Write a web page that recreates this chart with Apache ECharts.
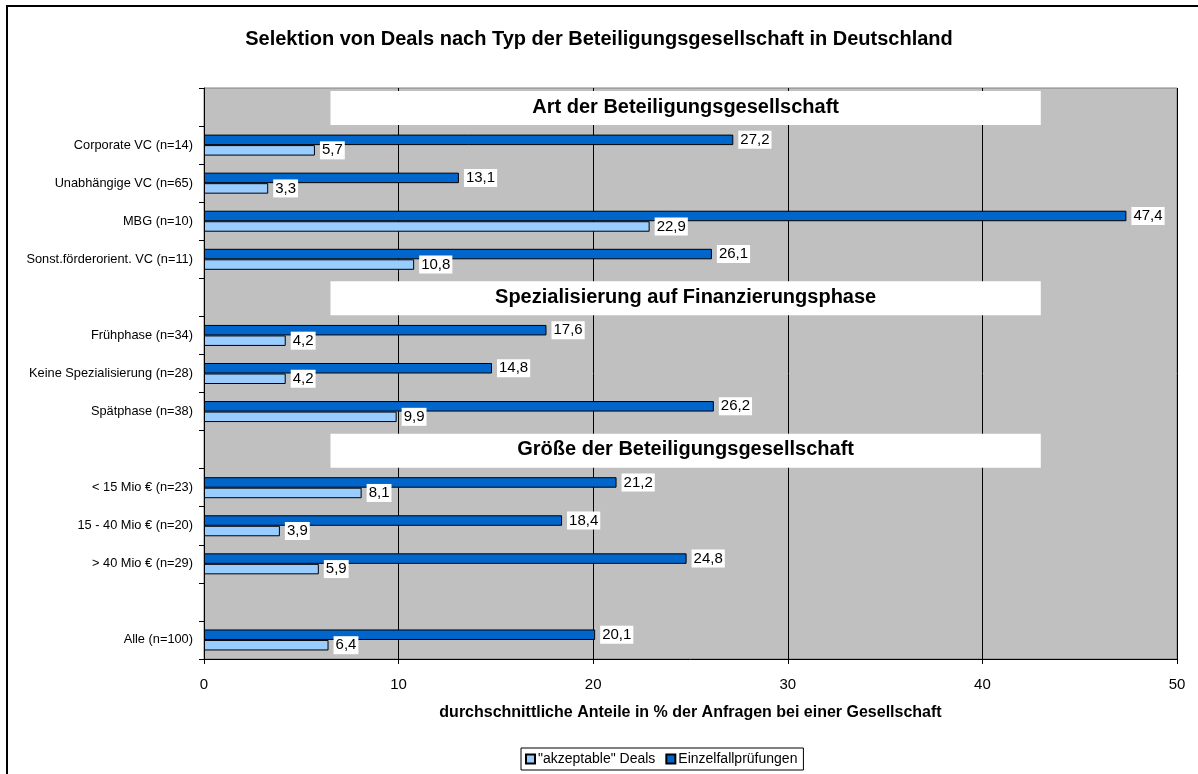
<!DOCTYPE html>
<html>
<head>
<meta charset="utf-8">
<script src="https://cdn.jsdelivr.net/npm/echarts@6/dist/echarts.min.js"></script>
<style>
  html, body { margin: 0; padding: 0; background: #fff; }
  #chart { width: 1198px; height: 774px; }
</style>
</head>
<body>
<div id="chart"></div>
<script>
  // rows top to bottom, blank rows carry the section headers
  const categories = ['', 'Corporate VC (n=14)', 'Unabhängige VC (n=65)', 'MBG (n=10)', 'Sonst.förderorient. VC (n=11)',
    ' ', 'Frühphase (n=34)', 'Keine Spezialisierung (n=28)', 'Spätphase (n=38)',
    '  ', '< 15 Mio € (n=23)', '15 - 40 Mio € (n=20)', '> 40 Mio € (n=29)',
    '   ', 'Alle (n=100)']
  const akzeptableDeals = [null, 5.7, 3.3, 22.9, 10.8, null, 4.2, 4.2, 9.9, null, 8.1, 3.9, 5.9, null, 6.4]
  const einzelfallpruefungen = [null, 27.2, 13.1, 47.4, 26.1, null, 17.6, 14.8, 26.2, null, 21.2, 18.4, 24.8, null, 20.1]
  const headerTitles = ['Art der Beteiligungsgesellschaft', 'Spezialisierung auf Finanzierungsphase', 'Größe der Beteiligungsgesellschaft']
  const headerRows = [0, 5, 9]
  const headerFrom = 6.5
  const headerTo = 43
  const xTicks = [0, 10, 20, 30, 40, 50]

  const font = '"Liberation Sans", Arial, sans-serif'
  const chart = echarts.init(document.getElementById('chart'))

  let fmt = function (p) {
    return String(p.value).replace('.', ',')
  }

  let labelStyle = {
    show: true,
    position: 'right',
    distance: 5,
    formatter: fmt,
    color: '#000',
    fontSize: 15,
    fontFamily: font,
    backgroundColor: '#fff',
    padding: [2, 2, 1, 2]
  }

  let options = {
    animation: false,
    textStyle: { fontFamily: font },
    title: {
      text: 'Selektion von Deals nach Typ der Beteiligungsgesellschaft in Deutschland',
      left: 'center',
      top: 24,
      textStyle: { fontSize: 20, fontWeight: 'bold', color: '#000', fontFamily: font }
    },
    graphic: [{
      type: 'rect',
      shape: { x: 7, y: 6, width: 1400, height: 1000 },
      style: { fill: 'none', stroke: '#000', lineWidth: 2 },
      silent: true
    }],
    legend: {
      left: 521,
      top: 748,
      data: ['"akzeptable" Deals', 'Einzelfallprüfungen'],
      itemWidth: 9,
      itemHeight: 9,
      itemGap: 10,
      padding: [4, 6, 4, 4],
      borderColor: '#000',
      borderWidth: 1,
      backgroundColor: '#fff',
      icon: 'rect',
      textStyle: { fontSize: 14, color: '#000', fontFamily: font, padding: [0, 0, 0, -2] }
    },
    grid: {
      left: 204,
      right: 21,
      top: 88,
      bottom: 115,
      show: true,
      backgroundColor: '#C0C0C0',
      borderColor: '#808080',
      borderWidth: 1
    },
    xAxis: {
      type: 'value',
      min: xTicks[0],
      max: xTicks[xTicks.length - 1],
      interval: 10,
      name: 'durchschnittliche Anteile in % der Anfragen bei einer Gesellschaft',
      nameLocation: 'middle',
      nameGap: 46,
      nameTextStyle: { fontSize: 16, fontWeight: 'bold', color: '#000', fontFamily: font },
      axisLine: { show: true, lineStyle: { color: '#000', width: 1 } },
      axisTick: { show: true, length: 5, lineStyle: { color: '#000' } },
      axisLabel: { fontSize: 15, color: '#000', margin: 18, fontFamily: font },
      splitLine: { show: true, lineStyle: { color: '#000', width: 1 } }
    },
    yAxis: {
      type: 'category',
      inverse: true,
      data: categories,
      axisLine: { show: true, lineStyle: { color: '#000', width: 1 } },
      axisTick: { show: true, length: 5, lineStyle: { color: '#000' } },
      axisLabel: { fontSize: 12.8, color: '#000', margin: 11, fontFamily: font }
    },
    series: [
      {
        name: 'Einzelfallprüfungen',
        type: 'bar',
        data: einzelfallpruefungen,
        barWidth: 10.5,
        barGap: '0%',
        itemStyle: { color: '#0066CC', borderColor: '#000', borderWidth: 1 },
        label: labelStyle
      },
      {
        name: '"akzeptable" Deals',
        type: 'bar',
        data: akzeptableDeals,
        barWidth: 10.5,
        barGap: '0%',
        itemStyle: { color: '#99CCFF', borderColor: '#000', borderWidth: 1 },
        label: labelStyle
      },
      {
        name: 'headers',
        type: 'custom',
        encode: { x: [0, 1], y: 2 },
        data: headerRows.map(function (r) { return [headerFrom, headerTo, r] }),
        renderItem: function (params, api) {
          let start = api.coord([api.value(0), api.value(2)])
          let end = api.coord([api.value(1), api.value(2)])
          let cy = start[1] + 1
          return {
            type: 'group',
            children: [
              {
                type: 'rect',
                shape: { x: start[0], y: cy - 17, width: end[0] - start[0], height: 34 },
                style: { fill: '#fff' }
              },
              {
                type: 'text',
                style: {
                  text: headerTitles[params.dataIndex],
                  x: (start[0] + end[0]) / 2,
                  y: cy - 1,
                  align: 'center',
                  verticalAlign: 'middle',
                  font: 'bold 20px ' + font,
                  fill: '#000'
                }
              }
            ]
          }
        }
      }
    ]
  }
  chart.setOption(options)
</script>
</body>
</html>
